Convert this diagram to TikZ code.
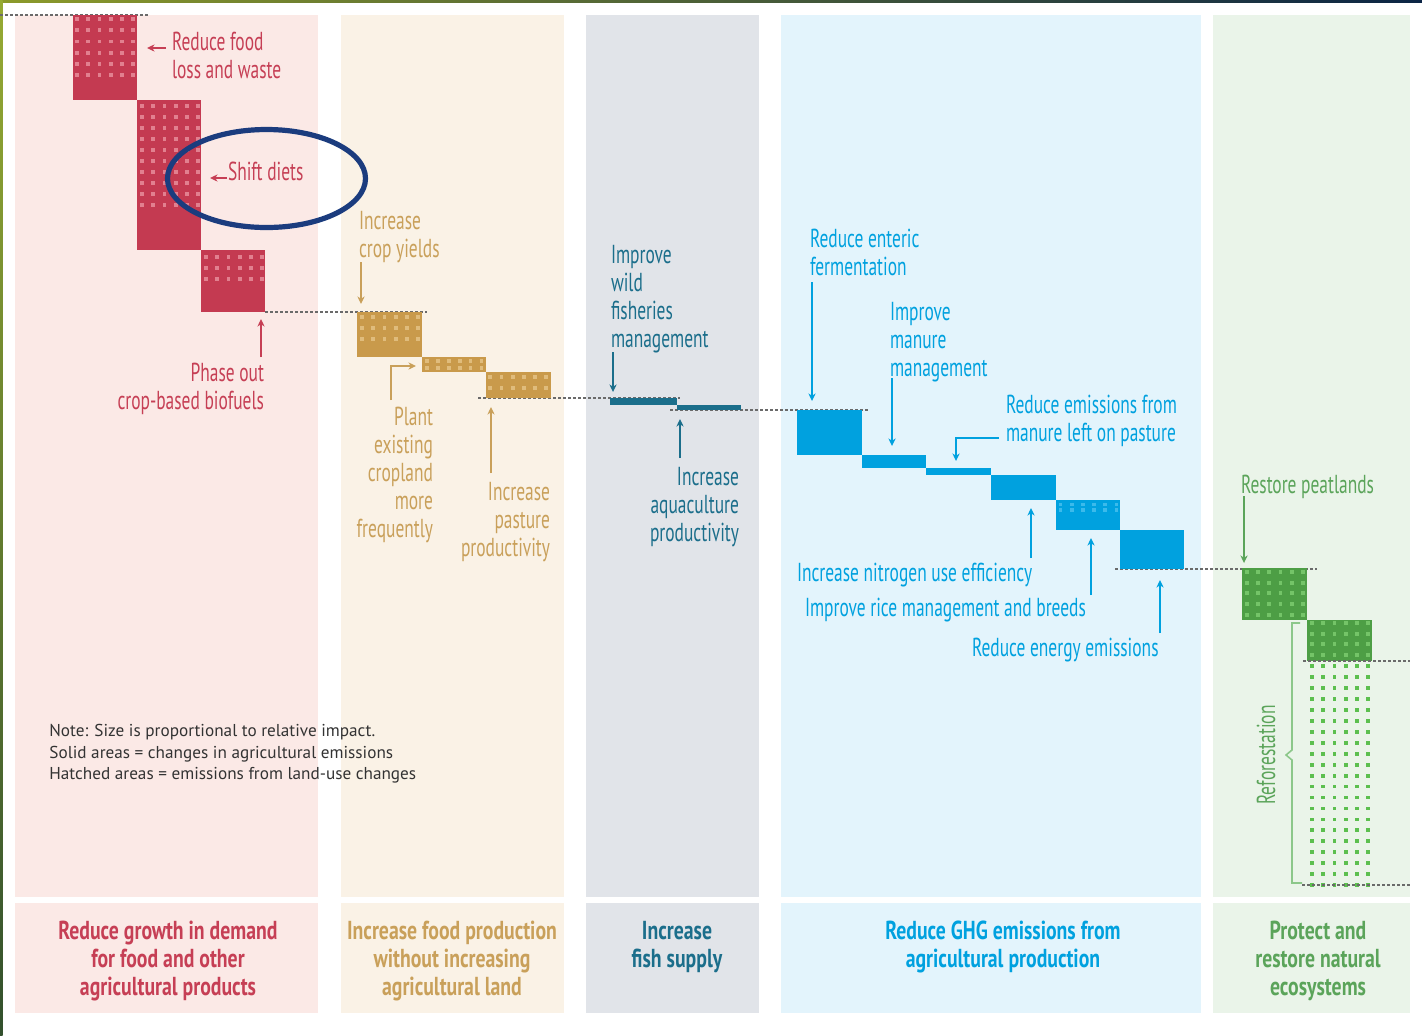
\documentclass[tikz,border=0pt]{standalone}
\usepackage{fontspec}
\setmainfont{PT Sans}
\newfontfamily\condf[FakeStretch=0.67]{PT Sans}
\newfontfamily\condb[FakeStretch=0.76]{PT Sans}
\newfontfamily\notef{PT Sans}
\usetikzlibrary{arrows.meta,shapes.geometric}

\definecolor{pinkbg}{HTML}{FBE9E6}
\definecolor{creambg}{HTML}{FAF2E6}
\definecolor{graybg}{HTML}{E1E4E9}
\definecolor{bluebg}{HTML}{E3F4FC}
\definecolor{greenbg}{HTML}{EAF4E9}
\definecolor{redc}{HTML}{C43A51}
\definecolor{redt}{HTML}{C63F55}
\definecolor{reddot}{HTML}{E2808F}
\definecolor{goldc}{HTML}{C99A4B}
\definecolor{goldt}{HTML}{C9A05A}
\definecolor{golddot}{HTML}{E0BC7C}
\definecolor{tealc}{HTML}{1B6E8B}
\definecolor{bluec}{HTML}{00A1DF}
\definecolor{bluedot}{HTML}{3BBAEB}
\definecolor{greenc}{HTML}{4D9E45}
\definecolor{greent}{HTML}{5BA45A}
\definecolor{greendot}{HTML}{74C468}
\definecolor{refdot}{HTML}{5CBF4F}
\definecolor{bracketc}{HTML}{8CC78A}
\definecolor{navyc}{HTML}{1B3C7E}
\definecolor{notec}{HTML}{333333}
\definecolor{dashc}{HTML}{6A6A6A}

% dot grid: x0, y0, ncols, nrows, colour, xsep, ysep
\newcommand\dotgrid[7]{%
  \foreach \ci in {1,...,#3}{%
    \foreach \cj in {1,...,#4}{%
      \fill[#5] ({#1+(\ci-1)*#6},{#2+(\cj-1)*#7}) rectangle ++(3.8,3.8);
    }%
  }%
}

\begin{document}
\begin{tikzpicture}[x=0.5pt,y=-0.5pt,
  lab/.style={font=\condf\fontsize{13}{14}\selectfont, inner sep=0pt, outer sep=0pt},
  bot/.style={font=\condb\bfseries\fontsize{13}{14}\selectfont, align=center, inner sep=0pt},
  arr/.style={line width=0.75pt, -{Stealth[length=3.8pt,width=3.6pt]}},
  guide/.style={dashc, line width=0.7pt, dash pattern=on 1.6pt off 0.9pt},
]
\useasboundingbox (0,0) rectangle (1422,1035);
\fill[white] (0,0) rectangle (1422,1035);
% frame edges of the screenshot
\shade[left color={rgb,255:red,140;green,154;blue,42}, right color={rgb,255:red,11;green,37;blue,69}] (0,0) rectangle (1422,2.5);
\shade[top color={rgb,255:red,150;green,170;blue,50}, bottom color={rgb,255:red,50;green,80;blue,45}] (0,0) rectangle (2.5,1035);

% panels
\fill[pinkbg]  (15,15) rectangle (318,897);   \fill[pinkbg]  (15,903) rectangle (318,1013);
\fill[creambg] (341,15) rectangle (564,897);  \fill[creambg] (341,903) rectangle (564,1013);
\fill[graybg]  (586,15) rectangle (759,897);  \fill[graybg]  (586,903) rectangle (759,1013);
\fill[bluebg]  (781,15) rectangle (1201,897); \fill[bluebg]  (781,903) rectangle (1201,1013);
\fill[greenbg] (1213,15) rectangle (1410,897);\fill[greenbg] (1213,903) rectangle (1410,1013);

% guide lines
\draw[guide] (0,15) -- (148,15);
\draw[guide] (265,312) -- (427,312);
\draw[guide] (478,398) -- (680,398);
\draw[guide] (670,410) -- (868,410);
\draw[guide] (1115,569) -- (1317,569);

% red blocks
\fill[redc] (73,15) rectangle (137,100);
\dotgrid{75.2}{17.2}{6}{6}{reddot}{11.2}{11.2}
\fill[redc] (137,100) rectangle (201,250);
\dotgrid{140.1}{104.2}{6}{10}{reddot}{11.2}{11}
\fill[redc] (201,250) rectangle (265,312);
\dotgrid{204.1}{255.1}{6}{3}{reddot}{11.2}{11}

% gold blocks
\fill[goldc] (357,312) rectangle (422,357);
\dotgrid{360.1}{315.2}{6}{3}{golddot}{11.2}{11}
\fill[goldc] (422,357) rectangle (486,372);
\dotgrid{425}{359}{6}{2}{golddot}{10.9}{7}
\fill[goldc] (486,372) rectangle (551,398);
\dotgrid{488.4}{375.2}{6}{2}{golddot}{11.2}{11}

% teal blocks
\fill[tealc] (610,398) rectangle (677,405);
\fill[tealc] (677,405) rectangle (741,410);

% blue blocks
\fill[bluec] (797,410) rectangle (862,455);
\fill[bluec] (862,455) rectangle (926,468);
\fill[bluec] (926,468) rectangle (991,475);
\fill[bluec] (991,475) rectangle (1056,500);
\fill[bluec] (1056,500) rectangle (1120,530);
\dotgrid{1058.5}{502.5}{6}{2}{bluedot}{11.2}{5.5}
\fill[bluec] (1120,530) rectangle (1184,569);

% green blocks
\fill[greenc] (1242,568) rectangle (1307,620);
\dotgrid{1245}{570}{6}{5}{greendot}{11.2}{10.7}
\fill[greenc] (1307,620) rectangle (1372,661);
\dotgrid{1310.2}{621.2}{6}{4}{greendot}{11.2}{10.5}
\dotgrid{1310.2}{664.2}{6}{21}{refdot}{11.2}{10.95}
\draw[guide] (1303,661) -- (1410,661);
\draw[guide] (1302,885) -- (1410,885);

% highlight ellipse
\node[ellipse, draw=navyc, line width=2.6pt, minimum width=99pt, minimum height=49pt, inner sep=0pt] (hl) at (266.5,178.5) {};

% ---- red labels
\node[lab, text=redt, align=left, anchor=north west] (lfood) at (172,32) {Reduce food\\loss and waste};
\node[lab, text=redt, align=left, anchor=north west] (ldiet) at (228,162) {Shift diets};
\node[lab, text=redt, align=right, anchor=north east] (lbio) at (264,363) {Phase out\\crop-based biofuels};
\coordinate (f1) at (166,48);  \coordinate (f2) at (147,48);
\coordinate (d1) at (227,178); \coordinate (d2) at (210,178);
\coordinate (b1) at (261,357); \coordinate (b2) at (261,319);
\draw[arr, redt] (f1) -- (f2);
\draw[arr, redt] (d1) -- (d2);
\draw[arr, redt] (b1) -- (b2);

% ---- gold labels
\node[lab, text=goldt, align=left, anchor=north west] (lcrop) at (359,211) {Increase\\crop yields};
\node[lab, text=goldt, align=right, anchor=north east] (lplant) at (433,407) {Plant\\existing\\cropland\\more\\frequently};
\node[lab, text=goldt, align=right, anchor=north east] (lpast) at (550,482) {Increase\\pasture\\productivity};
\coordinate (c1) at (361,262); \coordinate (c2) at (361,304);
\coordinate (p1) at (391,400); \coordinate (p2) at (391,366); \coordinate (p3) at (416,366);
\coordinate (q1) at (491,473); \coordinate (q2) at (491,407);
\draw[arr, goldt] (c1) -- (c2);
\draw[arr, goldt] (p1) -- (p2) -- (p3);
\draw[arr, goldt] (q1) -- (q2);

% ---- teal labels
\node[lab, text=tealc, align=left, anchor=north west] (lwild) at (611,245) {Improve\\wild\\fisheries\\management};
\node[lab, text=tealc, align=right, anchor=north east] (laqua) at (739,467) {Increase\\aquaculture\\productivity};
\coordinate (w1) at (613,352); \coordinate (w2) at (613,392);
\coordinate (u1) at (680,458); \coordinate (u2) at (680,419);
\draw[arr, tealc] (w1) -- (w2);
\draw[arr, tealc] (u1) -- (u2);

% ---- blue labels
\node[lab, text=bluec, align=left, anchor=north west] (lent) at (810,229) {Reduce enteric\\fermentation};
\node[lab, text=bluec, align=left, anchor=north west] (lman) at (890,302) {Improve\\manure\\management};
\node[lab, text=bluec, align=left, anchor=north west] (lpas) at (1006,395) {Reduce emissions from\\manure left on pasture};
\node[lab, text=bluec, align=left, anchor=north west] (lnit) at (797,563) {Increase nitrogen use efficiency};
\node[lab, text=bluec, align=left, anchor=north west] (lrice) at (805,598) {Improve rice management and breeds};
\node[lab, text=bluec, align=left, anchor=north west] (lene) at (972,638) {Reduce energy emissions};
\coordinate (e1) at (812,282);  \coordinate (e2) at (812,401);
\coordinate (m1) at (892,378);  \coordinate (m2) at (892,446);
\coordinate (s1) at (999,438);  \coordinate (s2) at (956,438); \coordinate (s3) at (956,461);
\coordinate (n1) at (1031,558); \coordinate (n2) at (1031,508);
\coordinate (r1) at (1091,595); \coordinate (r2) at (1091,538);
\coordinate (g1) at (1160,633); \coordinate (g2) at (1160,580);
\draw[arr, bluec] (e1) -- (e2);
\draw[arr, bluec] (m1) -- (m2);
\draw[arr, bluec] (s1) -- (s2) -- (s3);
\draw[arr, bluec] (n1) -- (n2);
\draw[arr, bluec] (r1) -- (r2);
\draw[arr, bluec] (g1) -- (g2);

% ---- green labels
\node[lab, text=greent, align=left, anchor=north west] (lpeat) at (1241,475) {Restore peatlands};
\coordinate (t1) at (1244,496); \coordinate (t2) at (1244,563);
\draw[arr, greent] (t1) -- (t2);
\draw[bracketc, line width=0.8pt] (1300,623) -- (1292,623) -- (1292,750) -- (1286,755) -- (1292,760) -- (1292,883) -- (1302,883);
\node[lab, text=greent, rotate=90] (lref) at (1266,755) {Reforestation};

% ---- note
\node[font=\notef\fontsize{8.6}{10.75}\selectfont, text=notec, align=left, anchor=north west, inner sep=0pt] (note) at (49,724)
  {Note: Size is proportional to relative impact.\\Solid areas = changes in agricultural emissions\\Hatched areas = emissions from land-use changes};

% ---- bottom category labels
\node[bot, text=redt, anchor=north] (cat1) at (168,921) {Reduce growth in demand\\for food and other\\agricultural products};
\node[bot, text=goldt, anchor=north] (cat2) at (452,921) {Increase food production\\without increasing\\agricultural land};
\node[bot, text=tealc, anchor=north] (cat3) at (677,921) {Increase\\fish supply};
\node[bot, text=bluec, anchor=north] (cat4) at (1003,921) {Reduce GHG emissions from\\agricultural production};
\node[bot, text=greent, anchor=north] (cat5) at (1318,921) {Protect and\\restore natural\\ecosystems};
\end{tikzpicture}
\end{document}
